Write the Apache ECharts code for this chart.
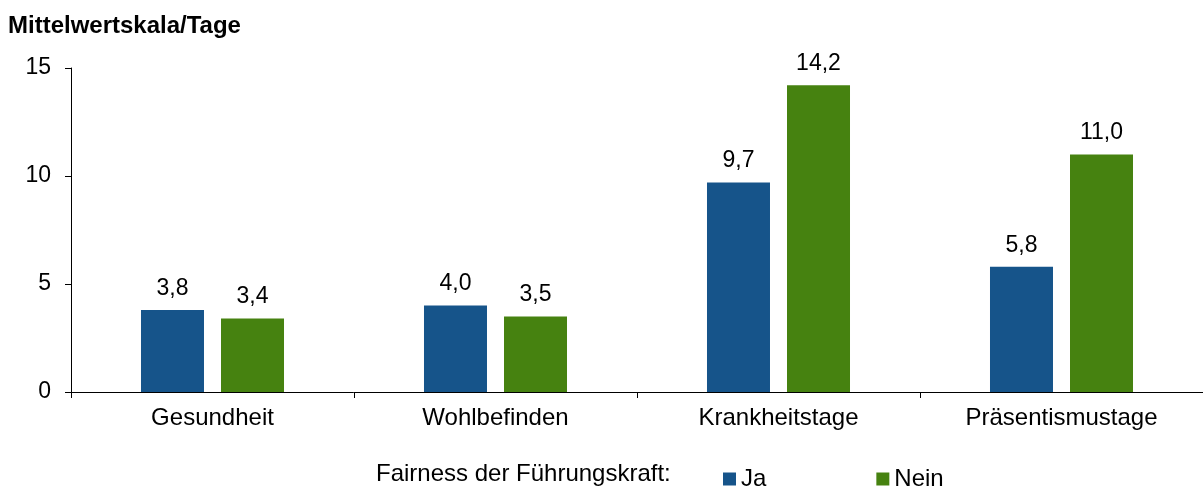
<!DOCTYPE html>
<html>
<head>
<meta charset="utf-8">
<script src="https://cdn.jsdelivr.net/npm/echarts@6/dist/echarts.min.js"></script>
<style>
  html, body { margin: 0; padding: 0; background: #fff; }
  #main { width: 1203px; height: 488px; }
</style>
</head>
<body>
<div id="main"></div>
<script>
// Daten
var kategorien = ['Gesundheit', 'Wohlbefinden', 'Krankheitstage', 'Präsentismustage'];
var ja = [3.8, 4.0, 9.7, 5.8];
var nein = [3.4, 3.5, 14.2, 11.0];
var yTicks = [0, 5, 10, 15];

var schrift = 'Liberation Sans, Arial, sans-serif';
var blau = '#16548a';
var gruen = '#468210';

function komma(p) {
    return p.value.toFixed(1).replace('.', ',');
}

var myChart = echarts.init(document.getElementById('main'));

var option = {
    animation: false,
    title: {
        text: 'Mittelwertskala/Tage',
        left: 3,
        top: 9,
        textStyle: { fontFamily: schrift, fontSize: 24, fontWeight: 'bold', color: '#000' }
    },
    graphic: [{
        type: 'text',
        left: 376,
        top: 462,
        style: { text: 'Fairness der Führungskraft:', font: '24px ' + schrift, fill: '#000' }
    }],
    legend: {
        left: 718,
        top: 462,
        icon: 'rect',
        itemWidth: 13,
        itemHeight: 13,
        itemGap: 110,
        textStyle: { fontFamily: schrift, fontSize: 24, color: '#000' },
        data: ['Ja', 'Nein']
    },
    grid: { left: 71, right: 0, top: 68, bottom: 96 },
    xAxis: {
        type: 'category',
        data: kategorien,
        axisLine: { lineStyle: { color: '#000', width: 1 } },
        axisTick: { show: true, length: 6, lineStyle: { color: '#000' } },
        axisLabel: { fontFamily: schrift, fontSize: 24, color: '#000', margin: 14 }
    },
    yAxis: {
        type: 'value',
        min: yTicks[0],
        max: yTicks[yTicks.length - 1],
        interval: 5,
        splitLine: { show: false },
        axisLine: { show: true, lineStyle: { color: '#000', width: 1 } },
        axisTick: { show: true, length: 6, lineStyle: { color: '#000' } },
        axisLabel: { fontFamily: schrift, fontSize: 23, color: '#000', margin: 20 }
    },
    series: [{
        name: 'Ja',
        type: 'bar',
        data: ja,
        barWidth: 63,
        barGap: '27%',
        itemStyle: { color: blau },
        label: { show: true, position: 'top', distance: 10, formatter: komma,
                 fontFamily: schrift, fontSize: 23, color: '#000' }
    }, {
        name: 'Nein',
        type: 'bar',
        data: nein,
        barWidth: 63,
        itemStyle: { color: gruen },
        label: { show: true, position: 'top', distance: 10, formatter: komma,
                 fontFamily: schrift, fontSize: 23, color: '#000' }
    }]
};

myChart.setOption(option);
</script>
</body>
</html>
